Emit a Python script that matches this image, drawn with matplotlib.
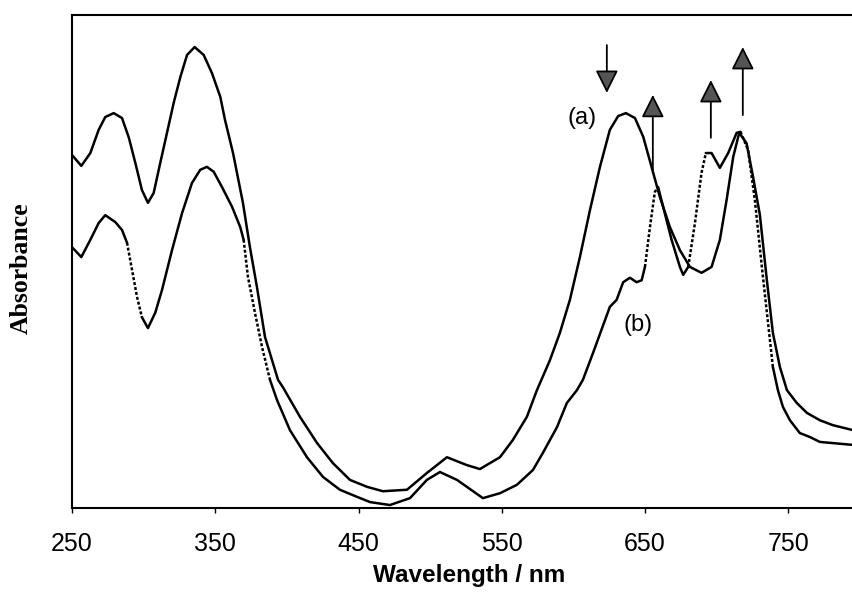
import matplotlib
matplotlib.use('Agg')
import matplotlib.pyplot as plt
from matplotlib.patches import ArrowStyle

# spectrum (a)
wl_a = [250.0, 256.5, 262.8, 268.6, 273.2, 279.1, 284.9, 289.6, 294.2, 298.8,
        303.0, 307.0, 311.6, 316.3, 321.0, 325.6, 330.3, 335.6, 341.9, 347.7,
        353.5, 356.8, 362.4, 369.3, 374.2, 379.1, 384.7, 393.8, 397.2, 409.1,
        421.0, 432.1, 444.0, 455.9, 467.0, 483.8, 497.7, 511.7, 525.6, 534.7,
        548.7, 557.7, 567.5, 574.5, 583.6, 590.5, 597.5, 604.5, 611.5, 618.5,
        625.4, 631.2, 636.6, 642.9, 648.7, 654.5, 660.3, 667.3, 674.3, 681.3,
        689.4, 696.4, 702.2, 706.9, 711.5, 715.7, 720.8, 725.4, 730.1, 735.0,
        739.2, 744.1, 749.0, 755.9, 762.9, 772.0, 781.1, 795.0]
abs_a = [0.716, 0.694, 0.720, 0.767, 0.793, 0.801, 0.791, 0.752, 0.700, 0.645,
         0.619, 0.639, 0.700, 0.761, 0.822, 0.874, 0.919, 0.935, 0.919, 0.882,
         0.834, 0.787, 0.720, 0.619, 0.529, 0.448, 0.347, 0.260, 0.245, 0.185,
         0.132, 0.091, 0.057, 0.043, 0.034, 0.037, 0.071, 0.103, 0.087, 0.079,
         0.103, 0.138, 0.185, 0.239, 0.300, 0.355, 0.422, 0.509, 0.604, 0.692,
         0.767, 0.795, 0.801, 0.791, 0.753, 0.692, 0.631, 0.570, 0.523, 0.489,
         0.477, 0.489, 0.544, 0.625, 0.712, 0.761, 0.740, 0.671, 0.595, 0.462,
         0.355, 0.286, 0.239, 0.213, 0.193, 0.178, 0.168, 0.158]

# spectrum (b)
wl_b = [250.0, 256.5, 262.8, 268.6, 273.2, 280.2, 284.9, 288.4, 291.9, 295.4,
        298.8, 303.0, 308.1, 312.8, 319.8, 326.8, 333.7, 339.5, 344.2, 348.9,
        354.7, 361.7, 367.4, 369.8, 372.8, 377.7, 382.6, 388.2, 393.1, 402.1,
        414.0, 425.2, 437.0, 446.1, 458.0, 471.9, 485.9, 497.7, 506.8, 518.7,
        536.8, 548.7, 560.5, 571.7, 578.7, 588.5, 595.4, 602.4, 606.6, 613.6,
        625.4, 630.1, 634.7, 639.4, 644.1, 647.6, 649.9, 653.4, 656.8, 659.1,
        662.6, 668.5, 674.3, 676.6, 680.1, 684.8, 689.4, 692.4, 696.4, 702.2,
        708.0, 713.9, 716.6, 721.9, 726.6, 731.5, 739.2, 742.7, 746.2, 751.1,
        758.0, 765.0, 772.0, 795.0]
abs_b = [0.529, 0.509, 0.544, 0.578, 0.594, 0.580, 0.564, 0.538, 0.483, 0.428,
         0.387, 0.365, 0.396, 0.442, 0.523, 0.598, 0.659, 0.686, 0.692, 0.682,
         0.651, 0.611, 0.570, 0.544, 0.469, 0.396, 0.327, 0.260, 0.219, 0.158,
         0.103, 0.063, 0.037, 0.026, 0.012, 0.006, 0.020, 0.057, 0.073, 0.057,
         0.020, 0.030, 0.047, 0.077, 0.112, 0.164, 0.213, 0.239, 0.260, 0.314,
         0.408, 0.422, 0.458, 0.467, 0.458, 0.462, 0.489, 0.570, 0.641, 0.651,
         0.611, 0.544, 0.489, 0.473, 0.489, 0.578, 0.680, 0.720, 0.720, 0.690,
         0.720, 0.761, 0.763, 0.726, 0.625, 0.489, 0.286, 0.239, 0.205, 0.178,
         0.152, 0.144, 0.134, 0.128]

# wavelength windows where trace (b) comes out dotted
dotted_b = [(288, 300), (369, 386), (649.5, 659.5), (680, 692.5), (719, 740.5)]

# arrows: wavelength, tail, head
arrows = [(623.3, 0.939, 0.842),
          (655.4, 0.680, 0.838),
          (695.9, 0.751, 0.868),
          (718.2, 0.797, 0.935)]

W, H = 853, 606
fig = plt.figure(figsize=(W / 100, H / 100), dpi=100)
ax = fig.add_axes([72 / W, (H - 508) / H, 788 / W, 493 / H])

LW = 1.8
ax.plot(wl_a, abs_a, color='black', lw=LW, solid_joinstyle='round',
        solid_capstyle='round')


def in_dotted(x):
    return any(lo <= x <= hi for lo, hi in dotted_b)


# split (b) into runs of solid / dotted segments
runs = []
for i in range(len(wl_b) - 1):
    mid = 0.5 * (wl_b[i] + wl_b[i + 1])
    d = in_dotted(mid)
    if runs and runs[-1][0] == d:
        runs[-1][1].append(i + 1)
    else:
        runs.append([d, [i, i + 1]])
for d, idx in runs:
    xs = [wl_b[k] for k in idx]
    ys = [abs_b[k] for k in idx]
    if d:
        ax.plot(xs, ys, color='black', lw=LW, linestyle=(0, (1.2, 0.8)))
    else:
        ax.plot(xs, ys, color='black', lw=LW, solid_joinstyle='round',
                solid_capstyle='round')

style = ArrowStyle('-|>', head_length=1.0, head_width=0.5)
for x, y0, y1 in arrows:
    ax.annotate('', xy=(x, y1), xytext=(x, y0),
                arrowprops=dict(arrowstyle=style, mutation_scale=14,
                                fc='#555555', ec='black', lw=1.3,
                                shrinkA=0, shrinkB=0))

ax.text(605.9, 0.791, '(a)', fontsize=17, family='Liberation Sans',
        ha='center', va='center')
ax.text(645.3, 0.371, '(b)', fontsize=17, family='Liberation Sans',
        ha='center', va='center')

ax.set_xlim(250, 800)
ax.set_ylim(0, 1)
ax.set_xticks([250, 350, 450, 550, 650, 750])
ax.set_yticks([])
ax.tick_params(axis='x', direction='out', length=3.6, width=1, pad=14,
               labelsize=18)
for lab in ax.get_xticklabels():
    lab.set_family('Liberation Sans')
for s in ax.spines.values():
    s.set_linewidth(1.5)

ax.set_xlabel('Wavelength / nm', fontsize=17.5, fontweight='bold',
              family='Liberation Sans')
ax.xaxis.set_label_coords(0.504, -0.114)
ax.set_ylabel('Absorbance', fontsize=18.5, fontweight='bold',
              family='Liberation Serif')
ax.yaxis.set_label_coords(-0.0495, 0.487)

fig.savefig('out.png', dpi=100)
